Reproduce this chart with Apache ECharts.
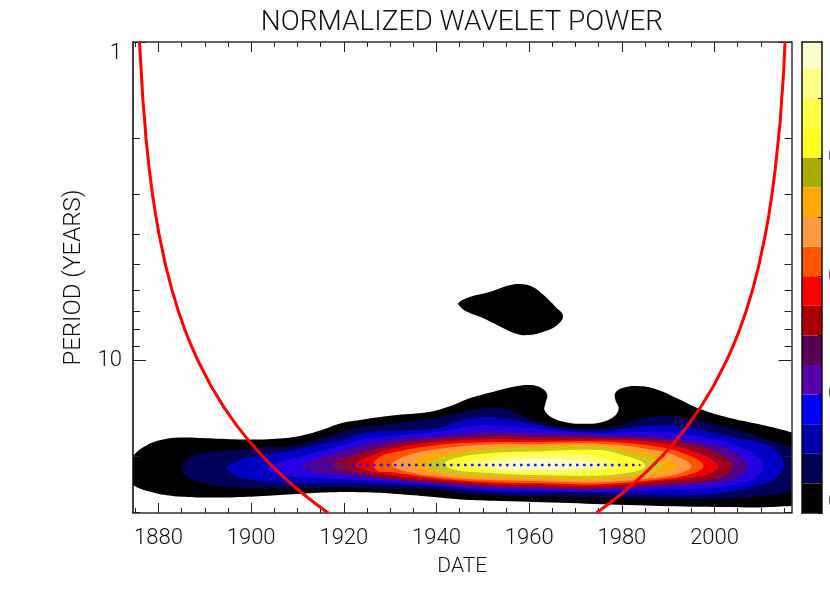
<!DOCTYPE html>
<html><head><meta charset="utf-8">
<style>html,body{margin:0;padding:0;background:#fff}#c{width:830px;height:597px}</style>
<script src="https://cdn.jsdelivr.net/npm/echarts@6/dist/echarts.min.js"></script>
</head><body><div id="c"></div>
<script>
const titleText = 'NORMALIZED WAVELET POWER';
const xName = 'DATE';
const yName = 'PERIOD (YEARS)';
const yearMajor = [1880,1900,1920,1940,1960,1980,2000];
const yearMinor = [1875,1885,1890,1895,1905,1910,1915,1925,1930,1935,1945,1950,1955,1965,1970,1975,1985,1990,1995,2005,2010,2015];
const periodMajor = [1,10];
const periodMinor = [2,3,4,5,6,7,8,9,20,30];
const scaleTicks = [0,0.125,0.25,0.375,0.5,0.625,0.75,0.875];
const scaleLabelled = [0,0.25,0.5,0.75];
const scaleStep = 0.0625;
const scaleColors = ['#000000','#000055','#0000aa','#0000ff','#5500aa','#550055','#aa0000','#ff0000','#ff5500','#ff9944','#ffaa00','#aaaa00','#ffff22','#ffff44','#ffff88','#ffffcc'];
const contourColors = ['#000000','#000058','#0000c4','#2400e0','#550088','#99001e','#ee0000','#ff5500','#ff9944','#ffaa00','#c8c81e','#ffff30','#ffff70','#ffffcc'];

const islandBlack = [[1944.7,6.60],[1947.3,6.31],[1951.6,6.08],[1955.3,5.82],[1958.1,5.75],[1960.7,5.87],[1963.1,6.23],[1965.7,6.79],[1967.3,7.24],[1966.1,7.73],[1963.1,8.12],[1959.6,8.32],[1957.0,8.22],[1953.8,7.83],[1950.1,7.37],[1946.6,7.03],[1945.3,6.81]];
const level0 = [[1874.5,19.95],[1877.5,18.43],[1881.0,17.69],[1884.7,17.44],[1891.8,17.56],[1899.1,17.69],[1906.3,17.56],[1911.2,17.15],[1915.5,16.46],[1919.2,15.75],[1924.2,15.30],[1931.5,14.83],[1938.7,14.48],[1943.0,13.90],[1947.3,13.12],[1952.3,12.53],[1957.4,12.03],[1960.3,11.94],[1962.8,12.23],[1963.9,12.84],[1963.5,13.63],[1963.3,14.30],[1965.0,15.13],[1968.2,15.64],[1971.7,15.80],[1975.4,15.64],[1978.2,15.02],[1979.3,14.13],[1978.6,13.30],[1978.6,12.62],[1980.3,12.17],[1983.4,12.03],[1987.5,12.32],[1992.0,13.15],[1997.0,14.23],[2002.8,15.08],[2009.9,15.87],[2016.7,16.81],[2018.6,17.27],[2019.7,22.07],[2018.6,28.64],[2016.7,28.64],[2009.9,28.91],[1995.5,28.79],[1981.2,28.43],[1966.7,27.96],[1952.3,27.56],[1945.1,27.28],[1938.7,26.77],[1931.5,26.25],[1924.2,25.93],[1917.1,25.93],[1909.9,26.25],[1902.6,26.63],[1895.5,26.89],[1888.3,26.89],[1883.1,26.63],[1878.2,25.82],[1874.5,24.60],[1872.8,22.89]];
const level1 = [[1885.0,21.76],[1886.8,20.10],[1891.8,19.38],[1899.1,18.97],[1902.6,18.70],[1909.9,18.43],[1917.1,17.15],[1924.2,16.18],[1931.5,15.72],[1938.7,15.27],[1945.8,14.51],[1952.3,14.10],[1955.9,14.41],[1959.6,15.16],[1963.1,15.72],[1966.7,16.18],[1971.7,16.30],[1975.4,16.30],[1977.5,16.18],[1981.2,15.72],[1984.7,15.16],[1988.3,14.94],[1992.0,15.05],[1999.1,15.72],[2006.3,16.77],[2013.6,18.16],[2017.5,19.10],[2018.6,22.07],[2017.5,25.14],[2009.9,26.63],[1995.5,27.22],[1981.2,27.02],[1966.7,26.83],[1952.3,26.44],[1945.1,26.06],[1938.7,25.32],[1931.5,25.32],[1919.2,25.14],[1895.5,24.96],[1888.3,23.90],[1886.0,23.06]];
const level2 = [[1894.7,21.76],[1897.0,20.68],[1902.6,19.81],[1909.9,18.97],[1917.1,18.03],[1919.2,17.77],[1924.2,16.90],[1930.0,16.65],[1940.0,16.30],[1945.8,15.37],[1951.6,15.05],[1960.0,15.72],[1966.7,16.42],[1975.4,16.65],[1981.2,16.30],[1988.3,15.95],[1995.5,16.30],[2000.0,16.90],[2009.9,18.16],[2013.2,19.10],[2014.9,21.29],[2013.2,23.40],[2009.9,24.60],[2002.8,25.87],[1995.5,26.44],[1981.2,26.25],[1966.7,25.87],[1960.0,26.06],[1951.6,25.87],[1945.1,25.32],[1940.0,24.96],[1930.0,24.43],[1919.2,24.25],[1909.9,24.25],[1902.6,23.90],[1897.0,23.06]];
const level3 = [[1903.4,21.76],[1906.3,20.83],[1911.2,19.95],[1919.2,18.56],[1924.2,17.65],[1930.0,17.27],[1940.0,16.77],[1945.8,16.18],[1951.6,15.95],[1960.0,16.30],[1966.7,16.65],[1975.4,16.90],[1981.9,16.77],[1988.3,16.77],[2000.0,17.65],[2005.6,18.70],[2008.9,19.81],[2010.6,21.45],[2008.9,23.23],[2005.6,24.25],[2000.0,25.14],[1988.3,25.50],[1975.4,25.87],[1960.0,25.69],[1951.6,25.50],[1940.0,24.60],[1930.0,24.08],[1919.2,23.56],[1911.2,23.23],[1906.3,22.73]];
const level4 = [[1910.9,21.45],[1913.8,20.53],[1919.2,19.38],[1930.0,17.77],[1940.0,17.27],[1951.6,16.77],[1960.0,16.90],[1975.4,17.15],[1988.3,17.40],[2000.0,18.43],[2004.5,19.52],[2007.1,21.45],[2004.5,23.40],[2000.0,24.25],[1988.3,24.96],[1975.4,25.50],[1960.0,25.32],[1951.6,25.14],[1940.0,24.43],[1930.0,23.73],[1919.2,22.89],[1913.8,22.24]];
const level5 = [[1917.4,21.29],[1920.3,20.24],[1930.0,18.43],[1940.0,17.65],[1951.6,17.27],[1960.0,17.33],[1975.4,17.46],[1988.3,17.77],[1997.0,18.70],[2001.7,19.95],[2003.9,21.45],[2001.7,23.06],[1997.0,23.90],[1988.3,24.43],[1975.4,25.14],[1960.0,24.96],[1951.6,24.78],[1940.0,24.08],[1930.0,23.40],[1920.3,22.07]];
const level6 = [[1922.5,21.29],[1925.7,19.95],[1930.0,18.97],[1940.0,18.03],[1951.6,17.65],[1960.0,17.77],[1975.4,17.71],[1988.3,18.16],[1995.9,19.38],[1999.1,20.39],[2000.9,21.45],[1999.1,22.56],[1995.9,23.23],[1988.3,23.90],[1975.4,24.78],[1960.0,24.60],[1951.6,24.43],[1940.0,23.73],[1930.0,22.89],[1925.7,22.24]];
const level7 = [[1926.3,21.29],[1927.4,20.24],[1930.0,19.52],[1940.0,18.43],[1951.6,18.03],[1960.0,18.03],[1975.4,17.96],[1988.3,18.70],[1994.8,19.95],[1997.6,21.45],[1994.8,22.73],[1988.3,23.60],[1975.4,24.43],[1960.0,24.25],[1951.6,24.08],[1940.0,23.40],[1930.0,22.40],[1927.4,22.24]];
const level8 = [[1930.4,21.29],[1933.3,19.95],[1940.0,18.97],[1951.6,18.30],[1960.0,18.30],[1975.4,18.23],[1988.3,19.24],[1992.7,20.24],[1995.0,21.45],[1992.7,22.56],[1988.3,23.23],[1975.4,24.08],[1960.0,23.90],[1951.6,23.73],[1940.0,23.06],[1933.3,22.24]];
const level9 = [[1934.3,21.29],[1936.5,20.24],[1940.0,19.52],[1951.6,18.63],[1960.0,18.56],[1975.4,18.43],[1986.2,19.52],[1990.1,20.39],[1991.8,21.45],[1990.1,22.40],[1986.2,22.89],[1975.4,23.73],[1960.0,23.56],[1951.6,23.40],[1940.0,22.73],[1936.5,22.07]];
const level10 = [[1937.9,21.29],[1940.0,20.39],[1945.1,19.52],[1951.6,18.97],[1960.0,18.83],[1975.4,18.70],[1984.0,19.81],[1987.3,20.53],[1988.7,21.45],[1987.3,22.24],[1984.0,22.73],[1975.4,23.40],[1960.0,23.23],[1951.6,23.06],[1945.1,22.73],[1940.0,22.24]];
const level11 = [[1941.7,21.14],[1944.1,20.24],[1951.6,19.52],[1960.0,19.31],[1975.4,19.10],[1980.8,19.95],[1984.0,20.68],[1985.1,21.45],[1984.0,22.07],[1980.8,22.56],[1975.4,22.97],[1960.0,22.89],[1951.6,22.56],[1944.1,22.07]];
const level12 = [[1946.2,21.14],[1951.6,20.10],[1960.0,19.66],[1968.9,19.66],[1975.4,20.10],[1979.3,21.29],[1975.4,22.07],[1968.9,22.56],[1960.0,22.48],[1951.6,22.24]];
const level13 = [[1950.9,21.22],[1955.9,20.61],[1960.0,20.39],[1968.9,20.53],[1975.4,21.29],[1968.9,21.91],[1960.0,22.07],[1955.9,21.99]];
const contours = [level0,level1,level2,level3,level4,level5,level6,level7,level8,level9,level10,level11,level12,level13];

const coiPeriods = [1,1.25,1.5,1.75,2,2.5,3,3.5,4,5,6,7,8,9,10,12,14,16,18,20,22,24,26,28,30.1];
const coiLeftYears = [1875.9,1876.3,1876.6,1877,1877.3,1878,1878.7,1879.4,1880.1,1881.5,1882.9,1884.3,1885.7,1887.1,1888.5,1891.3,1894.1,1896.9,1899.7,1902.5,1905.3,1908.1,1910.9,1913.7,1916.6];
const coiRightYears = [2015.2,2014.9,2014.5,2014.2,2013.8,2013.1,2012.4,2011.7,2011,2009.6,2008.2,2006.8,2005.4,2004,2002.6,1999.8,1997,1994.2,1991.4,1988.6,1985.8,1983,1980.2,1977.4,1974.5];
const ridgeYears = [1911.2,1984.0];
const ridgePeriods = [21.29,21.29];

const FONT = 'Roboto';
const WEIGHT = 300;
const INK = '#111';
const lineOf = (w,c) => ({show:true,onZero:false,lineStyle:{color:c||'#333',width:w||1.5}});
const tickOf = (values,len,c) => ({show:true,inside:true,length:len,customValues:values,lineStyle:{color:c||'#222',width:1}});

const xRange = {type:'value',gridIndex:0,min:1874.5,max:2016.6,splitLine:{show:false},z:5};
const yRange = {type:'log',logBase:10,gridIndex:0,min:1,max:30.1,inverse:true,splitLine:{show:false},z:5};
const xAxes = [
  Object.assign({},xRange,{position:'bottom',axisLine:lineOf(1.5),axisTick:tickOf(yearMajor,10),
    axisLabel:{show:true,customValues:yearMajor,margin:14,fontFamily:FONT,fontWeight:WEIGHT,fontSize:22,color:INK,formatter:v=>String(v)},
    name:xName,nameLocation:'middle',nameGap:43,nameTextStyle:{fontFamily:FONT,fontWeight:WEIGHT,fontSize:21,color:INK}}),
  Object.assign({},xRange,{position:'bottom',axisLine:{show:false},axisTick:tickOf(yearMinor,5),axisLabel:{show:false}}),
  Object.assign({},xRange,{position:'top',axisLine:lineOf(1.5),axisTick:tickOf(yearMajor,10),axisLabel:{show:false}}),
  Object.assign({},xRange,{position:'top',axisLine:{show:false},axisTick:tickOf(yearMinor,5),axisLabel:{show:false}}),
  {type:'category',gridIndex:1,data:[''],position:'bottom',axisLine:lineOf(1.5,'#111'),axisTick:{show:false},axisLabel:{show:false},z:5},
  {type:'category',gridIndex:1,data:[''],position:'top',axisLine:lineOf(1.5,'#111'),axisTick:{show:false},axisLabel:{show:false},z:5}
];
const yAxes = [
  Object.assign({},yRange,{position:'left',axisLine:lineOf(1.5,'#000'),axisTick:tickOf(periodMajor,13),
    axisLabel:{show:true,customValues:periodMajor,margin:11,fontFamily:FONT,fontWeight:WEIGHT,fontSize:22,color:INK,verticalAlignMinLabel:'top',formatter:v=>String(Math.round(v))},
    name:yName,nameLocation:'middle',nameGap:47,nameTextStyle:{fontFamily:FONT,fontWeight:WEIGHT,fontSize:24,color:INK}}),
  Object.assign({},yRange,{position:'left',axisLine:{show:false},axisTick:tickOf(periodMinor,7),axisLabel:{show:false}}),
  Object.assign({},yRange,{position:'right',axisLine:lineOf(1.5),axisTick:tickOf(periodMajor,13),axisLabel:{show:false}}),
  Object.assign({},yRange,{position:'right',axisLine:{show:false},axisTick:tickOf(periodMinor,7),axisLabel:{show:false}}),
  {type:'value',gridIndex:1,min:0,max:0.9945,position:'right',splitLine:{show:false},z:5,axisLine:lineOf(1.5,'#111'),axisTick:tickOf(scaleTicks,4,'#111'),
    axisLabel:{show:true,customValues:scaleLabelled,margin:6,fontFamily:FONT,fontWeight:WEIGHT,fontSize:22,color:INK,verticalAlignMinLabel:'bottom',formatter:v=>v.toFixed(2)}},
  {type:'value',gridIndex:1,min:0,max:0.9945,position:'left',splitLine:{show:false},z:5,axisLine:lineOf(1.5,'#111'),axisTick:{show:false},axisLabel:{show:false}}
];

const polygonSeries = (points,color) => ({
  type:'custom',xAxisIndex:0,yAxisIndex:0,clip:true,silent:true,z:2,data:points,encode:{x:0,y:1},
  renderItem:(params,api)=> params.dataIndex!==0 ? null : ({
    type:'polygon',shape:{points:points.map(p=>api.coord(p)),smooth:0.4},style:{fill:color,stroke:null}
  })
});
const series = [];
series.push(polygonSeries(islandBlack,contourColors[0]));
contours.forEach((c,i)=>series.push(polygonSeries(c,contourColors[i])));
const lineSeries = (years,periods,color,width,dash,z) => ({
  type:'line',xAxisIndex:0,yAxisIndex:0,symbol:'none',silent:true,z:z,clip:true,
  data:years.map((y,i)=>[y,periods[i]]),lineStyle:{color:color,width:width,type:dash,cap:'butt'}
});
series.push(lineSeries(ridgeYears,ridgePeriods,'#1414ff',2.5,[2.5,4.5],6));
series.push(lineSeries(coiLeftYears,coiPeriods,'#ff0000',3,'solid',7));
series.push(lineSeries(coiRightYears,coiPeriods,'#ff0000',3,'solid',7));
scaleColors.forEach(c=>series.push({type:'bar',xAxisIndex:4,yAxisIndex:4,stack:'scale',barWidth:'100%',silent:true,z:2,
  data:[scaleStep],itemStyle:{color:c}}));

const chart = echarts.init(document.getElementById('c'),null,{renderer:'canvas',width:830,height:597});
chart.setOption({
  animation:false,backgroundColor:'#fff',tooltip:{show:false},
  title:{text:titleText,left:457,top:4,textAlign:'center',textStyle:{fontFamily:FONT,fontWeight:WEIGHT,fontSize:28,color:INK}},
  grid:[{left:133,top:42,width:658.5,height:471,outerBoundsMode:'none'},{left:802,top:42,width:20,height:471,outerBoundsMode:'none'}],
  xAxis:xAxes,yAxis:yAxes,series:series
});
</script></body></html>
